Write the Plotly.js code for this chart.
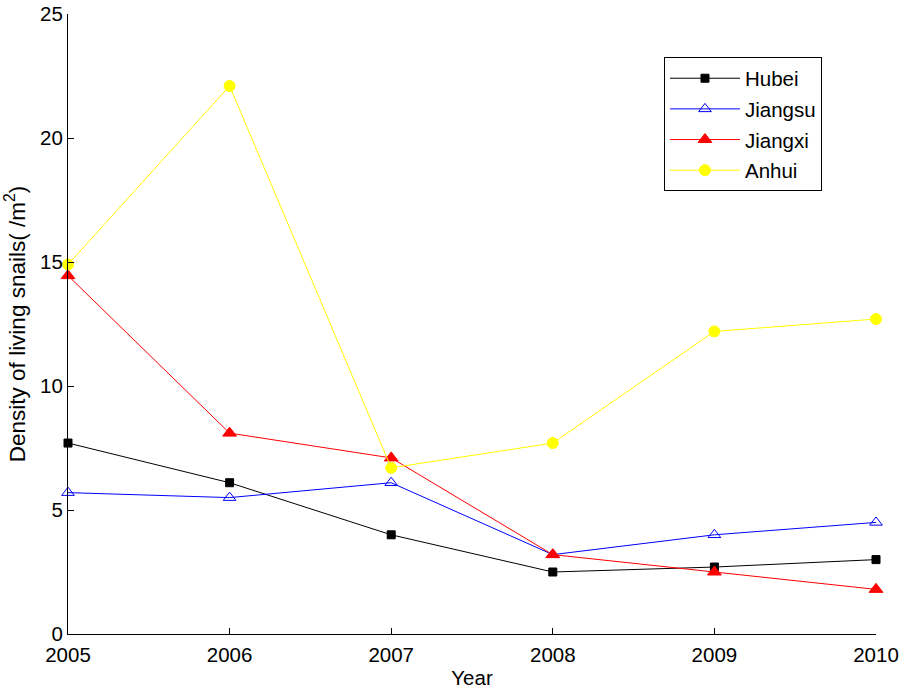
<!DOCTYPE html>
<html>
<head>
<meta charset="utf-8">
<script src="https://cdn.plot.ly/plotly-3.0.1.min.js"></script>
<style>html,body{margin:0;padding:0;background:#fff;}#chart{width:904px;height:693px;}</style>
</head>
<body>
<div id="chart"></div>
<script>
var years = [2005, 2006, 2007, 2008, 2009, 2010];
var hubei = [7.7, 6.1, 4.0, 2.5, 2.7, 3.0];
var jiangsu = [5.7, 5.5, 6.1, 3.2, 4.0, 4.5];
var jiangxi = [14.45, 8.1, 7.1, 3.2, 2.5, 1.8];
var anhui = [14.9, 22.1, 6.7, 7.7, 12.2, 12.7];

var font = {family: 'Liberation Sans, Arial, sans-serif', size: 20.5, color: '#000'};
var ytitleFont = {family: 'Liberation Sans, Arial, sans-serif', size: 22.5, color: '#000'};

function tr(name, y, color, symbol, size, group) {
  return {
    x: years, y: y, name: name, type: 'scatter', mode: 'lines+markers',
    legendgroup: group,
    line: {color: color, width: 1},
    marker: {color: color, symbol: symbol, size: size, line: {color: color, width: 1}},
    cliponaxis: false
  };
}

var data = [
  tr('Hubei', hubei, '#000000', 'square', 8, 'a'),
  tr('Jiangsu', jiangsu, '#0000ff', 'triangle-up-open', 11, 'b'),
  tr('Jiangxi', jiangxi, '#ff0000', 'triangle-up', 12, 'c'),
  tr('Anhui', anhui, '#ffff00', 'circle', 11, 'd')
];

var layout = {
  width: 904, height: 693,
  margin: {l: 68, r: 28, t: 14, b: 59},
  paper_bgcolor: '#fff', plot_bgcolor: '#fff',
  font: font,
  showlegend: true,
  legend: {
    x: 0.7376, y: 0.93, xanchor: 'left', yanchor: 'top',
    bgcolor: '#fff', bordercolor: '#000', borderwidth: 1,
    font: font, traceorder: 'grouped', tracegroupgap: 1, itemwidth: 70
  },
  xaxis: {
    range: [2005, 2010], tickvals: years, ticktext: years.map(String),
    showgrid: false, zeroline: false, showline: true, linecolor: '#000', linewidth: 1,
    ticks: 'inside', ticklen: 6, tickcolor: '#000', tickfont: font,
    ticklabelstandoff: 2,
    title: {text: 'Year', font: font, standoff: 6}
  },
  yaxis: {
    range: [0, 25], tickvals: [0, 5, 10, 15, 20, 25],
    showgrid: false, zeroline: false, showline: true, linecolor: '#000', linewidth: 1,
    ticks: 'inside', ticklen: 6, tickcolor: '#000', tickfont: font,
    title: {text: 'Density of living snails( /m<sup>2</sup>)', font: ytitleFont, standoff: 8}
  }
};

Plotly.newPlot('chart', data, layout, {displayModeBar: false, staticPlot: true});
</script>
</body>
</html>
